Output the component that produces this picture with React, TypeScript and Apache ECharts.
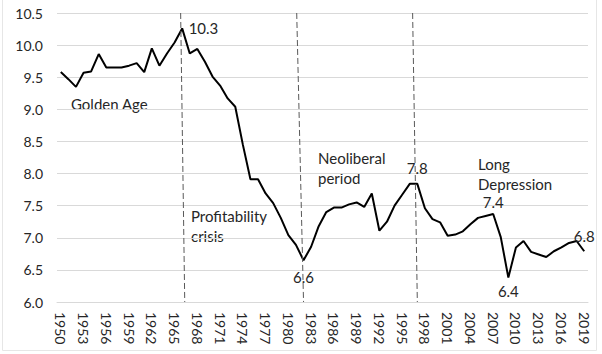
import React, { useEffect, useRef } from "react";
import * as echarts from "echarts";

const years: string[] = [];
for (let y = 1950; y <= 2019; y++) years.push(String(y));

const rate = [
  9.58, 9.47, 9.35, 9.57, 9.59, 9.86, 9.65, 9.65, 9.65, 9.68,
  9.72, 9.58, 9.95, 9.68, 9.87, 10.04, 10.26, 9.87, 9.94, 9.74,
  9.51, 9.37, 9.17, 9.04, 8.45, 7.91, 7.91, 7.69, 7.54, 7.31,
  7.04, 6.89, 6.65, 6.86, 7.18, 7.4, 7.47, 7.47, 7.52, 7.55,
  7.48, 7.69, 7.11, 7.25, 7.5, 7.67, 7.84, 7.84, 7.46, 7.29,
  7.24, 7.03, 7.05, 7.1, 7.21, 7.31, 7.34, 7.37, 7.01, 6.38,
  6.85, 6.95, 6.78, 6.74, 6.7, 6.79, 6.85, 6.92, 6.95, 6.79,
];

const pointLabels = [
  { year: "1966", text: "10.3", position: "right", distance: 6 },
  { year: "1982", text: "6.6", position: "bottom", distance: 9 },
  { year: "1997", text: "7.8", position: "top", distance: 8 },
  { year: "2007", text: "7.4", position: "top", distance: 4 },
  { year: "2009", text: "6.4", position: "bottom", distance: 5 },
  { year: "2019", text: "6.8", position: "top", distance: 7 },
];

// period dividers: [topYear, bottomYear] (slightly slanted as drawn)
const dividers = [
  [1965.8, 1966.34],
  [1981.1, 1982.0],
  [1996.38, 1997.0],
];

const periodTexts = [
  { lines: ["Golden Age"], x: 71, y: 104 },
  { lines: ["Profitability", "crisis"], x: 191, y: 216 },
  { lines: ["Neoliberal", "period"], x: 318, y: 158 },
  { lines: ["Long", "Depression"], x: 478, y: 164 },
];

const FONT = "Lato, 'Noto Sans', sans-serif";
const TEXT = "#262626";

export default function App() {
  const ref = useRef<HTMLDivElement>(null);
  useEffect(() => {
    if (!ref.current) return;
    const chart = echarts.init(ref.current, null, { renderer: "svg" });
    const data = rate.map((v, i) => {
      const pl = pointLabels.find((p) => p.year === years[i]);
      if (!pl) return v;
      return {
        value: v,
        label: {
          show: true,
          position: pl.position,
          distance: pl.distance,
          formatter: pl.text,
          fontFamily: FONT,
          fontSize: 15,
          color: TEXT,
        },
      };
    });
    const graphics: any[] = [
      {
        type: "rect",
        shape: { x: 2.5, y: -1, width: 594, height: 351.5 },
        style: { fill: "none", stroke: "#e6e6e6", lineWidth: 1 },
        silent: true,
      },
    ];
    periodTexts.forEach((t) => {
      t.lines.forEach((line, k) => {
        graphics.push({
          type: "text",
          style: {
            x: t.x,
            y: t.y + k * 20,
            text: line,
            font: `15px ${FONT}`,
            fill: TEXT,
            verticalAlign: "middle",
            textVerticalAlign: "middle",
          },
        });
      });
    });
    chart.setOption({
      animation: false,
      backgroundColor: "#fff",
      grid: { left: 57, right: 14, top: 13, bottom: 52, containLabel: false },
      xAxis: [
        {
          type: "category",
          data: years,
          boundaryGap: true,
          axisLine: { show: true, lineStyle: { color: "#d9d9d9", width: 1 } },
          axisTick: { show: false },
          axisLabel: {
            interval: 2,
            rotate: -90,
            margin: 10,
            fontFamily: FONT,
            fontSize: 14,
            color: TEXT,
          },
          splitLine: { show: false },
        },
        {
          type: "value",
          min: 1949.5,
          max: 2019.5,
          show: false,
          position: "bottom",
          splitLine: { show: false },
        },
      ],
      yAxis: {
        type: "value",
        min: 6,
        max: 10.5,
        interval: 0.5,
        axisLine: { show: false },
        axisTick: { show: false },
        axisLabel: {
          margin: 14,
          fontFamily: FONT,
          fontSize: 14,
          color: TEXT,
          formatter: (v: number) => v.toFixed(1),
        },
        splitLine: { lineStyle: { color: "#d9d9d9", width: 1 } },
      },
      graphic: graphics,
      series: [
        {
          type: "line",
          data,
          xAxisIndex: 0,
          symbol: "circle",
          symbolSize: 1,
          showSymbol: true,
          showAllSymbol: true,
          itemStyle: { color: "rgba(0,0,0,0)", borderWidth: 0 },
          lineStyle: { color: "#000", width: 2 },
          z: 3,
        },
        {
          type: "line",
          xAxisIndex: 1,
          data: [],
          symbol: "none",
          markLine: {
            silent: true,
            symbol: ["none", "none"],
            label: { show: false },
            lineStyle: { color: "#595959", type: [6, 3], width: 1 },
            data: dividers.map((d) => [
              { coord: [d[0], 10.5] },
              { coord: [d[1], 6] },
            ]),
          },
        },
      ],
    });
    return () => chart.dispose();
  }, []);
  return (
    <div
      ref={ref}
      style={{ position: "fixed", left: 0, top: 0, width: 602, height: 354 }}
    />
  );
}
